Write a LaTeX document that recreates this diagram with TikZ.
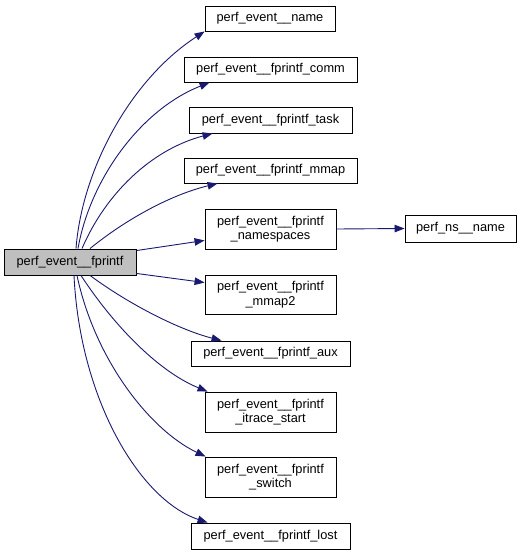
\documentclass[tikz,border=0pt]{standalone}
\usepackage{fontspec}
\setmainfont{Liberation Sans}
\usetikzlibrary{arrows.meta}
\definecolor{edgeblue}{HTML}{191970}
\begin{document}
\begin{tikzpicture}[x=1pt,y=-1pt,
  fn/.style={draw=black,line width=0.9pt,fill=white,inner sep=0pt,align=center,
    font=\fontsize{12.8}{14.5}\selectfont},
  callee/.style={draw=edgeblue,line width=0.9pt,-{Triangle[length=10pt,width=7.5pt]},fill=none}]
\useasboundingbox (0,0) rectangle (521,555);
\node[fn,fill={rgb,255:red,191;green,191;blue,191},minimum width=132pt,minimum height=26pt] (main) at (70,262) {perf\_event\_\_fprintf};
\node[fn,minimum width=130pt,minimum height=25pt] (name) at (270,18.5) {perf\_event\_\_name};
\node[fn,minimum width=173pt,minimum height=25pt] (comm) at (270.5,69.5) {perf\_event\_\_fprintf\_comm};
\node[fn,minimum width=163pt,minimum height=26pt] (task) at (270.5,120) {perf\_event\_\_fprintf\_task};
\node[fn,minimum width=173pt,minimum height=25pt] (mmap) at (270.5,170.5) {perf\_event\_\_fprintf\_mmap};
\node[fn,minimum width=131pt,minimum height=40pt] (ns) at (270.5,229) {perf\_event\_\_fprintf\\\_namespaces};
\node[fn,minimum width=131pt,minimum height=39pt] (mmap2) at (270.5,294.5) {perf\_event\_\_fprintf\\\_mmap2};
\node[fn,minimum width=159pt,minimum height=25pt] (aux) at (270.5,353.5) {perf\_event\_\_fprintf\_aux};
\node[fn,minimum width=131pt,minimum height=40pt] (itrace) at (270.5,412) {perf\_event\_\_fprintf\\\_itrace\_start};
\node[fn,minimum width=131pt,minimum height=40pt] (switch) at (270.5,477) {perf\_event\_\_fprintf\\\_switch};
\node[fn,minimum width=159pt,minimum height=26pt] (lost) at (270.5,536) {perf\_event\_\_fprintf\_lost};
\node[fn,minimum width=111pt,minimum height=27pt] (nsname) at (460.5,228.5) {perf\_ns\_\_name};

\draw[callee] ([xshift=6pt]main.north) .. controls (82,170) and (130,80) .. (name.south west);
\draw[callee] ([xshift=8pt]main.north) .. controls (90,180) and (140,110) .. ([xshift=26pt]comm.south west);
\draw[callee] ([xshift=12pt]main.north) .. controls (105,195) and (150,150) .. ([xshift=24pt]task.south west);
\draw[callee] ([xshift=20pt]main.north) .. controls (125,220) and (170,195) .. ([xshift=34pt]mmap.south west);
\draw[callee] ([yshift=-2pt]main.north east) -- ([yshift=9pt]ns.south west);
\draw[callee] ([yshift=2pt]main.south east) -- ([yshift=-8pt]mmap2.north west);
\draw[callee] ([xshift=20pt]main.south) .. controls (130,305) and (180,330) .. ([xshift=31pt]aux.north west);
\draw[callee] ([xshift=11pt]main.south) .. controls (110,320) and (155,370) .. ([xshift=3pt]itrace.north west);
\draw[callee] ([xshift=7pt]main.south) .. controls (95,360) and (150,430) .. ([xshift=1pt]switch.north west);
\draw[callee] ([xshift=4pt]main.south) .. controls (80,400) and (140,500) .. ([xshift=17pt]lost.north west);
\draw[callee] (ns.east) -- (nsname.west);
\end{tikzpicture}
\end{document}
